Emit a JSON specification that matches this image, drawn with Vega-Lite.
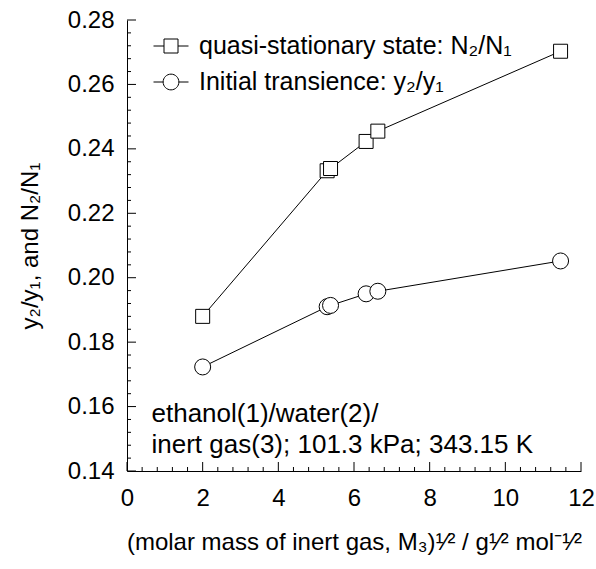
{
  "$schema": "https://vega.github.io/schema/vega-lite/v6.json",
  "width": 454,
  "height": 451,
  "autosize": "none",
  "padding": {"left": 127, "top": 20, "right": 15, "bottom": 98},
  "background": "white",
  "config": {
    "view": {"stroke": null},
    "font": "Liberation Sans",
    "axis": {
      "grid": false,
      "domainColor": "black",
      "domainWidth": 1,
      "tickColor": "black",
      "tickWidth": 1,
      "labelColor": "black",
      "titleColor": "black",
      "labelFont": "Liberation Sans",
      "titleFont": "Liberation Sans",
      "labelFontSize": 24,
      "titleFontSize": 24,
      "titleFontWeight": "normal",
      "labelFlush": false,
      "labelOverlap": false,
      "labelBound": false
    },
    "legend": {
      "labelFont": "Liberation Sans",
      "labelFontSize": 25,
      "labelColor": "black",
      "labelLimit": 500
    }
  },
  "data": {
    "values": [
      {"x": 2.0, "ratio": 0.188, "series": "quasi-stationary state: N₂/N₁"},
      {"x": 5.29, "ratio": 0.2332, "series": "quasi-stationary state: N₂/N₁"},
      {"x": 5.38, "ratio": 0.2339, "series": "quasi-stationary state: N₂/N₁"},
      {"x": 6.32, "ratio": 0.2423, "series": "quasi-stationary state: N₂/N₁"},
      {"x": 6.63, "ratio": 0.2455, "series": "quasi-stationary state: N₂/N₁"},
      {"x": 11.46, "ratio": 0.2703, "series": "quasi-stationary state: N₂/N₁"},
      {"x": 2.0, "ratio": 0.1723, "series": "Initial transience: y₂/y₁"},
      {"x": 5.29, "ratio": 0.191, "series": "Initial transience: y₂/y₁"},
      {"x": 5.38, "ratio": 0.1914, "series": "Initial transience: y₂/y₁"},
      {"x": 6.32, "ratio": 0.195, "series": "Initial transience: y₂/y₁"},
      {"x": 6.63, "ratio": 0.1958, "series": "Initial transience: y₂/y₁"},
      {"x": 11.46, "ratio": 0.2052, "series": "Initial transience: y₂/y₁"},
      {"tickAxis": "x", "kind": "major", "x": 0, "ratio": 0.14}, {"tickAxis": "x", "kind": "minor", "x": 0.4, "ratio": 0.14}, {"tickAxis": "x", "kind": "minor", "x": 0.8, "ratio": 0.14}, {"tickAxis": "x", "kind": "minor", "x": 1.2, "ratio": 0.14}, {"tickAxis": "x", "kind": "minor", "x": 1.6, "ratio": 0.14},
      {"tickAxis": "x", "kind": "major", "x": 2, "ratio": 0.14}, {"tickAxis": "x", "kind": "minor", "x": 2.4, "ratio": 0.14}, {"tickAxis": "x", "kind": "minor", "x": 2.8, "ratio": 0.14}, {"tickAxis": "x", "kind": "minor", "x": 3.2, "ratio": 0.14}, {"tickAxis": "x", "kind": "minor", "x": 3.6, "ratio": 0.14},
      {"tickAxis": "x", "kind": "major", "x": 4, "ratio": 0.14}, {"tickAxis": "x", "kind": "minor", "x": 4.4, "ratio": 0.14}, {"tickAxis": "x", "kind": "minor", "x": 4.8, "ratio": 0.14}, {"tickAxis": "x", "kind": "minor", "x": 5.2, "ratio": 0.14}, {"tickAxis": "x", "kind": "minor", "x": 5.6, "ratio": 0.14},
      {"tickAxis": "x", "kind": "major", "x": 6, "ratio": 0.14}, {"tickAxis": "x", "kind": "minor", "x": 6.4, "ratio": 0.14}, {"tickAxis": "x", "kind": "minor", "x": 6.8, "ratio": 0.14}, {"tickAxis": "x", "kind": "minor", "x": 7.2, "ratio": 0.14}, {"tickAxis": "x", "kind": "minor", "x": 7.6, "ratio": 0.14},
      {"tickAxis": "x", "kind": "major", "x": 8, "ratio": 0.14}, {"tickAxis": "x", "kind": "minor", "x": 8.4, "ratio": 0.14}, {"tickAxis": "x", "kind": "minor", "x": 8.8, "ratio": 0.14}, {"tickAxis": "x", "kind": "minor", "x": 9.2, "ratio": 0.14}, {"tickAxis": "x", "kind": "minor", "x": 9.6, "ratio": 0.14},
      {"tickAxis": "x", "kind": "major", "x": 10, "ratio": 0.14}, {"tickAxis": "x", "kind": "minor", "x": 10.4, "ratio": 0.14}, {"tickAxis": "x", "kind": "minor", "x": 10.8, "ratio": 0.14}, {"tickAxis": "x", "kind": "minor", "x": 11.2, "ratio": 0.14}, {"tickAxis": "x", "kind": "minor", "x": 11.6, "ratio": 0.14},
      {"tickAxis": "x", "kind": "major", "x": 12, "ratio": 0.14},
      {"tickAxis": "y", "kind": "major", "x": 0, "ratio": 0.14}, {"tickAxis": "y", "kind": "minor", "x": 0, "ratio": 0.144}, {"tickAxis": "y", "kind": "minor", "x": 0, "ratio": 0.148}, {"tickAxis": "y", "kind": "minor", "x": 0, "ratio": 0.152}, {"tickAxis": "y", "kind": "minor", "x": 0, "ratio": 0.156},
      {"tickAxis": "y", "kind": "major", "x": 0, "ratio": 0.16}, {"tickAxis": "y", "kind": "minor", "x": 0, "ratio": 0.164}, {"tickAxis": "y", "kind": "minor", "x": 0, "ratio": 0.168}, {"tickAxis": "y", "kind": "minor", "x": 0, "ratio": 0.172}, {"tickAxis": "y", "kind": "minor", "x": 0, "ratio": 0.176},
      {"tickAxis": "y", "kind": "major", "x": 0, "ratio": 0.18}, {"tickAxis": "y", "kind": "minor", "x": 0, "ratio": 0.184}, {"tickAxis": "y", "kind": "minor", "x": 0, "ratio": 0.188}, {"tickAxis": "y", "kind": "minor", "x": 0, "ratio": 0.192}, {"tickAxis": "y", "kind": "minor", "x": 0, "ratio": 0.196},
      {"tickAxis": "y", "kind": "major", "x": 0, "ratio": 0.2}, {"tickAxis": "y", "kind": "minor", "x": 0, "ratio": 0.204}, {"tickAxis": "y", "kind": "minor", "x": 0, "ratio": 0.208}, {"tickAxis": "y", "kind": "minor", "x": 0, "ratio": 0.212}, {"tickAxis": "y", "kind": "minor", "x": 0, "ratio": 0.216},
      {"tickAxis": "y", "kind": "major", "x": 0, "ratio": 0.22}, {"tickAxis": "y", "kind": "minor", "x": 0, "ratio": 0.224}, {"tickAxis": "y", "kind": "minor", "x": 0, "ratio": 0.228}, {"tickAxis": "y", "kind": "minor", "x": 0, "ratio": 0.232}, {"tickAxis": "y", "kind": "minor", "x": 0, "ratio": 0.236},
      {"tickAxis": "y", "kind": "major", "x": 0, "ratio": 0.24}, {"tickAxis": "y", "kind": "minor", "x": 0, "ratio": 0.244}, {"tickAxis": "y", "kind": "minor", "x": 0, "ratio": 0.248}, {"tickAxis": "y", "kind": "minor", "x": 0, "ratio": 0.252}, {"tickAxis": "y", "kind": "minor", "x": 0, "ratio": 0.256},
      {"tickAxis": "y", "kind": "major", "x": 0, "ratio": 0.26}, {"tickAxis": "y", "kind": "minor", "x": 0, "ratio": 0.264}, {"tickAxis": "y", "kind": "minor", "x": 0, "ratio": 0.268}, {"tickAxis": "y", "kind": "minor", "x": 0, "ratio": 0.272}, {"tickAxis": "y", "kind": "minor", "x": 0, "ratio": 0.276},
      {"tickAxis": "y", "kind": "major", "x": 0, "ratio": 0.28}
    ]
  },
  "resolve": {"axis": {"x": "independent", "y": "independent"}, "scale": {"shape": "independent"}},
  "layer": [
    {
      "transform": [{"filter": "isValid(datum.series)"}],
      "mark": {"type": "line", "color": "black", "strokeWidth": 1},
      "encoding": {
        "x": {
          "field": "x", "type": "quantitative",
          "scale": {"domain": [0, 12], "nice": false, "zero": false},
          "axis": {
            "orient": "bottom",
            "title": "(molar mass of inert gas, M₃)¹⁄² / g¹⁄² mol⁻¹⁄²",
            "values": [0, 2, 4, 6, 8, 10, 12],
            "format": "d",
            "ticks": false,
            "tickSize": 0,
            "labelPadding": 15,
            "titlePadding": 20
          }
        },
        "y": {
          "field": "ratio", "type": "quantitative",
          "scale": {"domain": [0.14, 0.28], "nice": false, "zero": false},
          "axis": {
            "orient": "left",
            "title": "y₂/y₁, and N₂/N₁",
            "values": [0.14, 0.16, 0.18, 0.2, 0.22, 0.24, 0.26, 0.28],
            "format": ".2f",
            "ticks": false,
            "tickSize": 0,
            "labelPadding": 13,
            "titlePadding": 25
          }
        },
        "detail": {"field": "series"}
      }
    },
    {
      "transform": [{"filter": "datum.tickAxis === 'x' && datum.kind === 'major'"}],
      "mark": {"type": "point", "shape": "M0,0V-1", "size": 324, "filled": false, "color": "black", "strokeWidth": 1, "opacity": 1},
      "encoding": {
        "x": {"field": "x", "type": "quantitative", "scale": {"domain": [0, 12], "nice": false, "zero": false}, "axis": null},
        "y": {"field": "ratio", "type": "quantitative", "scale": {"domain": [0.14, 0.28], "nice": false, "zero": false}, "axis": null}
      }
    },
    {
      "transform": [{"filter": "datum.tickAxis === 'x' && datum.kind === 'minor'"}],
      "mark": {"type": "point", "shape": "M0,0V-1", "size": 64, "filled": false, "color": "black", "strokeWidth": 1, "opacity": 1},
      "encoding": {
        "x": {"field": "x", "type": "quantitative", "scale": {"domain": [0, 12], "nice": false, "zero": false}, "axis": null},
        "y": {"field": "ratio", "type": "quantitative", "scale": {"domain": [0.14, 0.28], "nice": false, "zero": false}, "axis": null}
      }
    },
    {
      "transform": [{"filter": "datum.tickAxis === 'y' && datum.kind === 'major'"}],
      "mark": {"type": "point", "shape": "M0,0H1", "size": 324, "filled": false, "color": "black", "strokeWidth": 1, "opacity": 1},
      "encoding": {
        "x": {"field": "x", "type": "quantitative", "scale": {"domain": [0, 12], "nice": false, "zero": false}, "axis": null},
        "y": {"field": "ratio", "type": "quantitative", "scale": {"domain": [0.14, 0.28], "nice": false, "zero": false}, "axis": null}
      }
    },
    {
      "transform": [{"filter": "datum.tickAxis === 'y' && datum.kind === 'minor'"}],
      "mark": {"type": "point", "shape": "M0,0H1", "size": 64, "filled": false, "color": "black", "strokeWidth": 1, "opacity": 1},
      "encoding": {
        "x": {"field": "x", "type": "quantitative", "scale": {"domain": [0, 12], "nice": false, "zero": false}, "axis": null},
        "y": {"field": "ratio", "type": "quantitative", "scale": {"domain": [0.14, 0.28], "nice": false, "zero": false}, "axis": null}
      }
    },
    {
      "transform": [{"filter": "isValid(datum.series)"}],
      "mark": {"type": "point", "filled": true, "fill": "white", "stroke": "black", "strokeWidth": 1, "opacity": 1},
      "encoding": {
        "x": {"field": "x", "type": "quantitative", "scale": {"domain": [0, 12], "nice": false, "zero": false}, "axis": null},
        "y": {"field": "ratio", "type": "quantitative", "scale": {"domain": [0.14, 0.28], "nice": false, "zero": false}, "axis": null},
        "shape": {
          "field": "series",
          "scale": {"domain": ["quasi-stationary state: N₂/N₁", "Initial transience: y₂/y₁"], "range": ["square", "circle"]},
          "legend": null
        },
        "size": {
          "condition": {"test": "indexof(datum.series, 'Initial') === 0", "value": 256},
          "value": 196
        }
      }
    },
    {
      "transform": [{"filter": "isValid(datum.series)"}],
      "mark": {"type": "point", "filled": false, "color": "black", "strokeWidth": 1, "size": 0},
      "encoding": {
        "x": {"field": "x", "type": "quantitative", "scale": {"domain": [0, 12], "nice": false, "zero": false}, "axis": null},
        "y": {"field": "ratio", "type": "quantitative", "scale": {"domain": [0.14, 0.28], "nice": false, "zero": false}, "axis": null},
        "shape": {
          "field": "series",
          "scale": {
            "domain": ["quasi-stationary state: N₂/N₁", "Initial transience: y₂/y₁"],
            "range": ["M-1,0H-0.4M0.4,0H1M-0.4,-0.4H0.4V0.4H-0.4Z", "M-1,0H-0.45M0.45,0H1M0.45,0A0.45,0.45,0,1,1,-0.45,0A0.45,0.45,0,1,1,0.45,0Z"]
          },
          "legend": {
            "title": null,
            "orient": "top-left",
            "offset": 8,
            "padding": 0,
            "symbolSize": 1225,
            "symbolStrokeWidth": 1,
            "symbolStrokeColor": "black",
            "symbolOpacity": 1,
            "symbolOffset": 18,
            "labelOffset": 10,
            "rowPadding": 5
          }
        }
      }
    },
    {
      "transform": [{"filter": "isValid(datum.series) && datum.x === 2 && datum.ratio > 0.18"}],
      "mark": {"type": "text", "align": "left", "baseline": "alphabetic", "fontSize": 26, "lineHeight": 31, "font": "Liberation Sans", "color": "black"},
      "encoding": {
        "x": {"datum": 0.648, "type": "quantitative", "scale": {"domain": [0, 12], "nice": false, "zero": false}, "axis": null},
        "y": {"datum": 0.1553, "type": "quantitative", "scale": {"domain": [0.14, 0.28], "nice": false, "zero": false}, "axis": null},
        "text": {"value": ["ethanol(1)/water(2)/", "inert gas(3); 101.3 kPa; 343.15 K"]}
      }
    }
  ]
}
